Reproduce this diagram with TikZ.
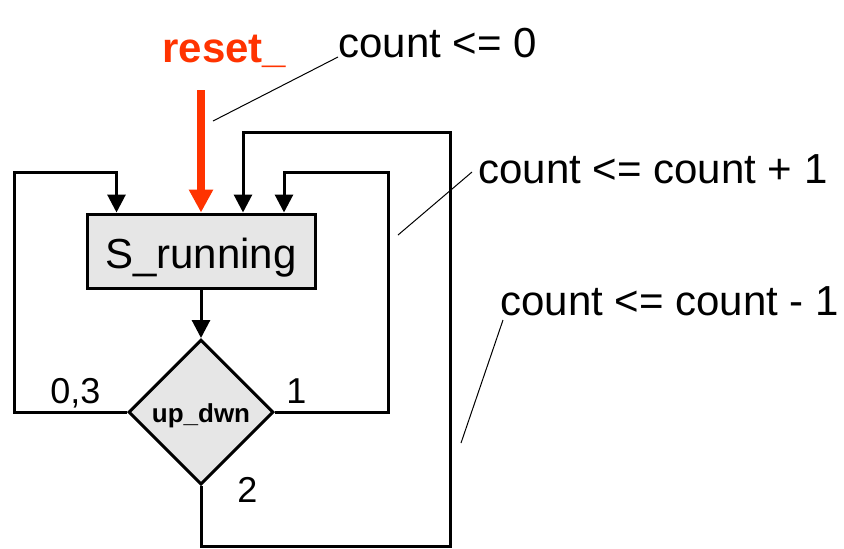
\documentclass[tikz,border=0pt]{standalone}
\usepackage{fontspec}
\setmainfont{Liberation Sans}
\usepackage{xcolor}
\usepackage{tikz}
\usetikzlibrary{shapes.geometric,arrows.meta}

\definecolor{resetred}{HTML}{FF3300}
\definecolor{stategray}{HTML}{E6E6E6}

\tikzset{
  state/.style={draw,line width=1.5pt,fill=stategray,minimum width=114pt,minimum height=37pt,inner sep=0pt,text height=17pt,text depth=0pt,font=\fontsize{21}{25}\selectfont},
  decision/.style={diamond,draw,line width=1.5pt,fill=stategray,minimum width=72.5pt,minimum height=72.5pt,inner sep=0pt,text height=10pt,text depth=0pt,font=\bfseries\fontsize{13}{15}\selectfont},
  flow/.style={line width=1.5pt,-{Triangle[width=9pt,length=9pt]}},
  resetarrow/.style={line width=4pt,resetred,-{Triangle[width=11.5pt,length=11.5pt]}},
  leader/.style={line width=0.5pt},
  action/.style={anchor=base west,inner sep=0pt,font=\fontsize{21}{25}\selectfont},
  branch/.style={anchor=base west,inner sep=0pt,font=\fontsize{18}{21}\selectfont}
}

\begin{document}
\begin{tikzpicture}[x=0.5pt,y=-0.5pt]
\useasboundingbox (0,0) rectangle (844,548);
\node[state] (S) at (201,251) {S\_running};
\node[decision] (dec) at (201,412) {up\_dwn};
% entries on top of the state
\coordinate (in1) at ([xshift=15.5pt]S.north west);
\coordinate (in2) at ([xshift=21pt]S.north);
\coordinate (in3) at ([xshift=41.5pt]S.north);
% bends of the loops
\coordinate (b03) at (14,172);
\coordinate (b1) at (388,172);
\coordinate (b2a) at (450,546);
\coordinate (b2b) at (450,132);
\coordinate (rst) at (201,90);
\draw[flow] (S.south) -- (dec.north);
\draw[flow] (dec.west) -| (b03) -| (in1);
\draw[flow] (dec.east) -| (b1) -| (in3);
\draw[flow] (dec.south) |- (b2a) -- (b2b) -| (in2);
\draw[resetarrow] (rst) -- (S.north);
% labels
\node[action,font=\bfseries\fontsize{21}{25}\selectfont,text=resetred] (rlbl) at (162,62) {reset\_};
\node[action] (cnt0) at (338,57) {count <= 0};
\node[action] (cnt1) at (478,183) {count <= count + 1};
\node[action] (cnt2) at (500,315) {count <= count - 1};
\node[branch] (br03) at (50,403) {0,3};
\node[branch] (br1) at (286,403) {1};
\node[branch] (br2) at (237,502) {2};
% leader lines
\coordinate (e0) at (213,121);
\coordinate (e1) at (398,235);
\coordinate (e2) at (461,443);
\draw[leader] (cnt0.base west) -- (e0);
\draw[leader] ([shift={(-3pt,5.5pt)}]cnt1.base west) -- (e1);
\draw[leader] ([shift={(1.5pt,-2.5pt)}]cnt2.base west) -- (e2);
\end{tikzpicture}
\end{document}
